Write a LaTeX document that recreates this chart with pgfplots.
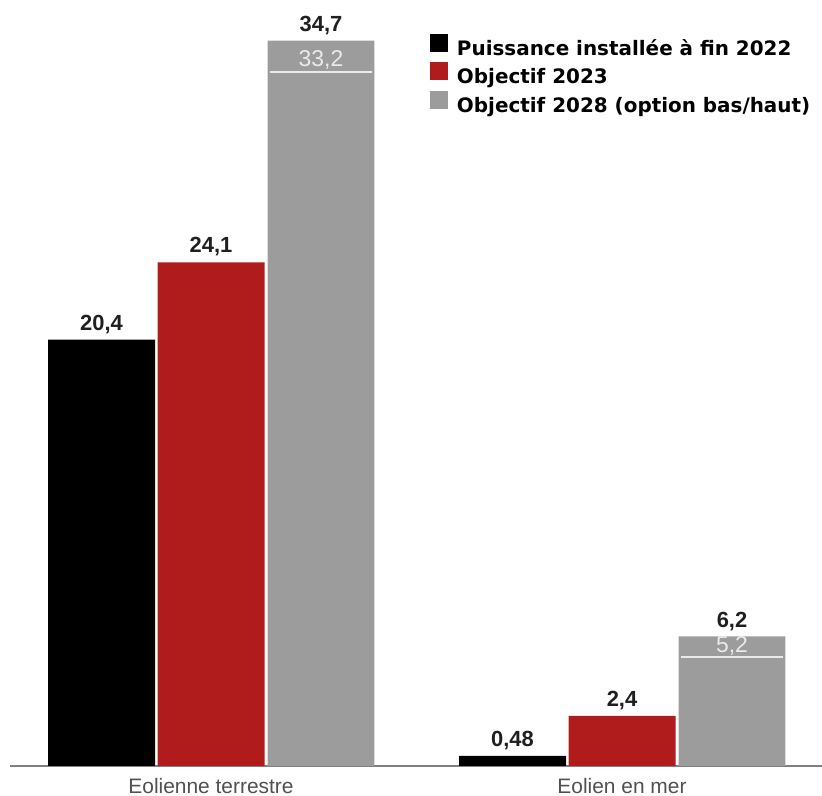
\documentclass[border=0pt]{standalone}
\usepackage{fontspec}
\setmainfont{Liberation Sans}
\newfontfamily\legfont{DejaVu Sans}
\usepackage{pgfplots}
\pgfplotsset{compat=1.18}
\definecolor{cblack}{HTML}{000000}
\definecolor{cred}{HTML}{B01B1B}
\definecolor{cgray}{HTML}{9C9C9C}
\definecolor{cbase}{HTML}{808080}
\definecolor{ctext}{HTML}{505050}
\definecolor{cwhite}{HTML}{EAEAEA}
\begin{document}
\begin{tikzpicture}
\begin{axis}[
  name=ax, at={(0,0)}, anchor=south west,
  scale only axis, width=411bp, height=383bp,
  xmin=-0.5134, xmax=1.4866, ymin=0, ymax=36.65,
  clip=false,
  axis line style={draw=none},
  ytick=\empty,
  xtick={0,1}, xticklabels={Eolienne terrestre, Eolien en mer},
  xtick style={draw=none},
  xticklabel style={anchor=base, yshift=-14bp, font=\fontsize{10.5}{12}\selectfont, text=ctext},
  point meta=explicit symbolic,
  legend style={at={(0.5231,0.9556)}, anchor=north west, draw=none, fill=none,
    inner sep=0pt, outer sep=0pt, row sep=0.5bp,
    font=\legfont\bfseries\fontsize{10}{12}\selectfont,
    nodes={inner sep=1bp, text height=7.5bp, text depth=2bp},
    cells={anchor=west},
    /tikz/every odd column/.append style={column sep=3.5bp}},
  legend image code/.code={\fill[#1] (0bp,-1bp) rectangle (9bp,8bp);},
  vals/.style={nodes near coords, every node near coord/.append style={font=\bfseries\fontsize{11}{12}\selectfont, anchor=south, inner sep=0pt, yshift=2.8bp, text=black!88}},
]
\draw[cbase, line width=1bp] (axis cs:-0.489,0) -- (axis cs:1.4866,0);
% x positions: group 0 = Eolienne terrestre, group 1 = Eolien en mer
\addplot[ybar, bar width=0.2603, bar shift=0pt, fill=cblack, draw=none, vals]
  coordinates {(-0.2664,20.4) [20,4] (0.7336,0.48) [0,48]};
\addlegendentry{Puissance installée à fin 2022}
\addplot[ybar, bar width=0.2603, bar shift=0pt, fill=cred, draw=none, vals]
  coordinates {(0,24.1) [24,1] (1,2.4) [2,4]};
\addlegendentry{Objectif 2023}
\addplot[ybar, bar width=0.2603, bar shift=0pt, fill=cgray, draw=none, vals]
  coordinates {(0.2676,34.7) [34,7] (1.2676,6.2) [6,2]};
\addlegendentry{Objectif 2028 (option bas/haut)}
\addplot[forget plot, only marks, mark=-, mark size=25.5bp,
  mark options={line width=1bp, draw=cwhite},
  nodes near coords, every node near coord/.append style={font=\fontsize{11.5}{12}\selectfont, anchor=south, inner sep=0pt, yshift=0.6bp, text=cwhite}]
  coordinates {(0.2676,33.2) [33,2] (1.2676,5.2) [5,2]};
\end{axis}
\pgfresetboundingbox
\path[use as bounding box] ([yshift=-15bp]ax.south west) rectangle (ax.north east);
\end{tikzpicture}
\end{document}
